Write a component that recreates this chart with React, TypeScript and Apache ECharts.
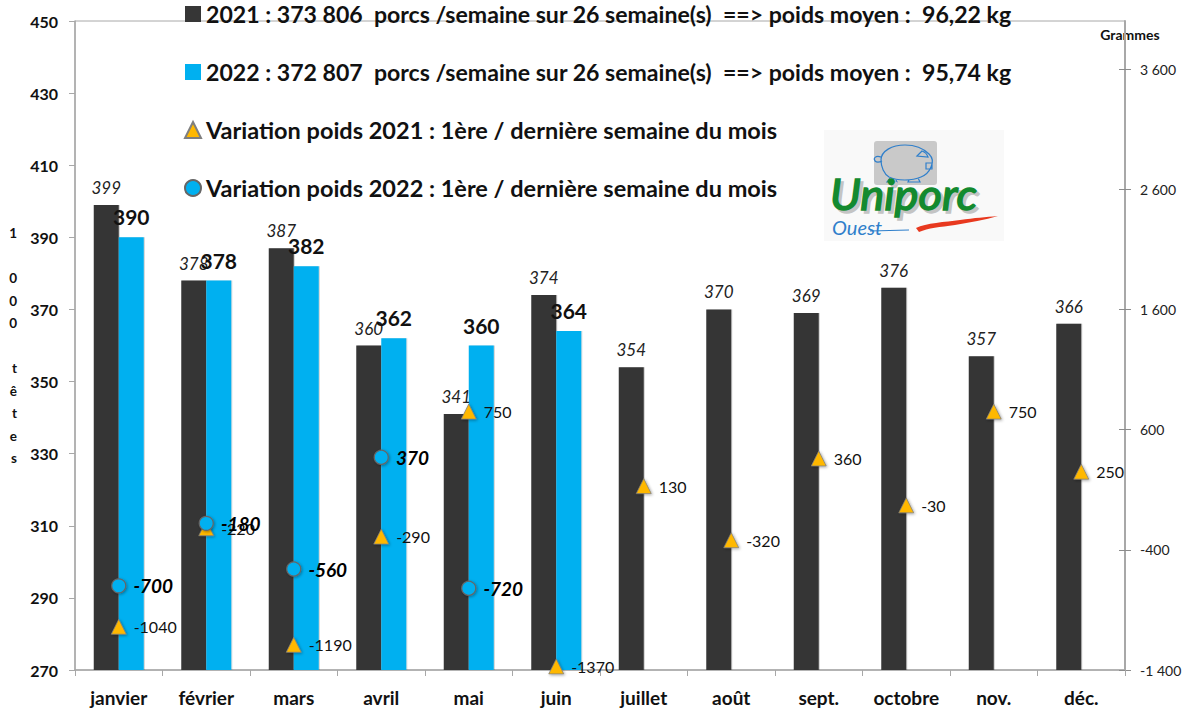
import React, { useEffect, useRef } from "react";
import * as echarts from "echarts";

const months = ["janvier", "février", "mars", "avril", "mai", "juin", "juillet", "août", "sept.", "octobre", "nov.", "déc."];
const heads2021 = [399, 378, 387, 360, 341, 374, 354, 370, 369, 376, 357, 366];
const heads2022 = [390, 378, 382, 362, 360, 364, null, null, null, null, null, null];
const weight2021 = [-1040, -220, -1190, -290, 750, -1370, 130, -320, 360, -30, 750, 250];
const weight2022 = [-700, -180, -560, 370, -720, null, null, null, null, null, null, null];
const leftTicks = [270, 290, 310, 330, 350, 370, 390, 410, 430, 450];
const rightTicks = [-1400, -400, 600, 1600, 2600, 3600];
const legendNames = [
  "2021 : 373 806  porcs /semaine sur 26 semaine(s)  ==> poids moyen :  96,22 kg",
  "2022 : 372 807  porcs /semaine sur 26 semaine(s)  ==> poids moyen :  95,74 kg",
  "Variation poids 2021 : 1ère / dernière semaine du mois",
  "Variation poids 2022 : 1ère / dernière semaine du mois",
];
const leftTitle = "1\n\n0\n0\n0\n\nt\nê\nt\ne\ns";

const FONT = "Lato";
const AXIS = "#a8a8a8";

echarts.graphic.registerShape(
  "pigBody",
  echarts.graphic.extendPath(
    "M881 160 C881 151 892 145 905 145 C917 145 924 149 929 154 C933 158 933 163 931 167 C929 172 926 175 921 177 C912 181 897 181 889 177 C884 174 881 167 881 160 Z M881 157 C876 155 873 158 875 161 C877 163 880 162 882 161 M890 178 L887 182 L897 182 L896 180 M909 180 L908 182 L920 182 L918 178 M917 156 L922 151 C925 152 927 154 928 157 Z M926 163 L932 163 L932 169 L926 169 Z",
    {}
  )
);
echarts.graphic.registerShape(
  "redStroke",
  echarts.graphic.extendPath("M916 228 C926 223 945 222 960 220 C975 218 985 217 998 216 C985 220 970 222 955 225 C940 227 928 228 919 232 Z", {})
);

export default function App() {
  const ref = useRef<HTMLDivElement>(null);
  useEffect(() => {
    const chart = echarts.init(ref.current!, undefined, { renderer: "svg" });
    const barShadow = { shadowColor: "rgba(0,0,0,0.2)", shadowBlur: 1.5, shadowOffsetX: 1, shadowOffsetY: 0 };
    const markerShadow = { shadowColor: "rgba(0,0,0,0.35)", shadowBlur: 3, shadowOffsetX: 1, shadowOffsetY: 1 };
    const legendRow = (name: string, icon: string, fontSize: number) => ({
      name,
      icon,
      textStyle: { fontFamily: FONT, fontWeight: "bold", fontSize, color: "#111111", lineHeight: 24 },
    });
    chart.setOption({
      animation: false,
      backgroundColor: "#ffffff",
      textStyle: { fontFamily: FONT },
      grid: { left: 75, right: 62, top: 21, bottom: 41, show: true, borderColor: AXIS, borderWidth: 1, backgroundColor: "transparent" },
      legend: {
        orient: "vertical",
        left: 179,
        top: -3,
        itemWidth: 16,
        itemHeight: 16,
        itemGap: 34,
        selectedMode: false,
        data: [
          legendRow(legendNames[0], "rect", 23.1),
          legendRow(legendNames[1], "rect", 23.1),
          legendRow(legendNames[2], "triangle", 23.5),
          legendRow(legendNames[3], "circle", 23.5),
        ],
      },
      xAxis: {
        type: "category",
        data: months,
        axisLine: { onZero: false, lineStyle: { color: AXIS, width: 1.5 } },
        axisTick: { show: true, length: 6, lineStyle: { color: AXIS }, alignWithLabel: false },
        axisLabel: { interval: 0, margin: 18, fontFamily: FONT, fontWeight: "bold", fontSize: 19, color: "#111111" },
      },
      yAxis: [
        {
          type: "value",
          min: 270,
          max: 450,
          name: leftTitle,
          nameLocation: "middle",
          nameRotate: 0,
          nameGap: 58,
          nameTextStyle: { fontFamily: FONT, fontWeight: "bold", fontSize: 13.5, lineHeight: 22.5, color: "#111111", padding: [7, 0, 0, 0] },
          splitLine: { show: false },
          axisLine: { show: true, lineStyle: { color: AXIS, width: 1.5 } },
          axisTick: { show: true, length: 6, lineStyle: { color: AXIS }, customValues: leftTicks },
          axisLabel: { margin: 17, padding: [0, 0, 2, 0], fontFamily: FONT, fontWeight: "bold", fontSize: 16, color: "#111111", customValues: leftTicks, showMinLabel: true, showMaxLabel: true },
        },
        {
          type: "value",
          position: "right",
          min: -1400,
          max: 4000,
          name: "Grammes",
          nameLocation: "end",
          nameGap: -20,
          nameTextStyle: { fontFamily: FONT, fontWeight: "bold", fontSize: 14, color: "#111111", align: "center", padding: [0, 0, 0, 10] },
          splitLine: { show: false },
          axisLine: { show: true, lineStyle: { color: AXIS, width: 2 } },
          axisTick: { show: true, length: 6, lineStyle: { color: "#8c8c8c" }, customValues: rightTicks },
          axisLabel: {
            margin: 15,
            fontFamily: FONT,
            fontSize: 14,
            color: "#222222",
            customValues: rightTicks,
            formatter: (v: number) => {
              const a = Math.abs(v);
              const s = a >= 1000 ? `${Math.floor(a / 1000)} ${String(a % 1000).padStart(3, "0")}` : String(a);
              return (v < 0 ? "-" : "") + s;
            },
          },
        },
        {
          type: "value",
          position: "right",
          min: -1400,
          max: 4000,
          splitLine: { show: false },
          axisLine: { show: false },
          axisTick: { show: true, inside: true, length: 6, lineStyle: { color: "#8c8c8c" }, customValues: rightTicks },
          axisLabel: { show: false },
        },
      ],
      series: [
        {
          name: legendNames[0],
          type: "bar",
          data: heads2021,
          barWidth: 25,
          barGap: 0,
          itemStyle: { color: "#363636", ...barShadow },
          label: { show: true, position: "top", distance: 9, fontFamily: FONT, fontStyle: "italic", fontSize: 17, color: "#222222" },
        },
        {
          name: legendNames[1],
          type: "bar",
          data: heads2022,
          barWidth: 25,
          itemStyle: { color: "#00B0F0", ...barShadow },
          label: { show: true, position: "top", distance: 10, fontFamily: FONT, fontWeight: "bold", fontSize: 21, color: "#111111" },
        },
        {
          name: legendNames[2],
          type: "scatter",
          yAxisIndex: 1,
          data: weight2021,
          symbol: "triangle",
          symbolSize: 15,
          itemStyle: { opacity: 1, color: "#FFB800", borderColor: "#7f7f7f", borderWidth: 0.75, ...markerShadow },
          label: { show: true, position: "right", distance: 7, fontFamily: FONT, fontSize: 16, color: "#111111" },
          z: 5,
        },
        {
          name: legendNames[3],
          type: "scatter",
          yAxisIndex: 1,
          data: weight2022,
          symbol: "circle",
          symbolSize: 14,
          itemStyle: { opacity: 1, color: "#00B0F0", borderColor: "#666666", borderWidth: 1.25, ...markerShadow },
          label: { show: true, position: "right", distance: 7, fontFamily: FONT, fontStyle: "italic", fontWeight: "bold", fontSize: 19, color: "#000000" },
          z: 6,
        },
      ],
      graphic: [
        { type: "rect", z: 0, silent: true, shape: { x: 824, y: 130, width: 180, height: 111 }, style: { fill: "#f9f9f9" } },
        { type: "rect", z: 1, silent: true, shape: { x: 874, y: 141, width: 63, height: 44, r: 3 }, style: { fill: "#c9c9c9" } },
        { type: "pigBody", z: 2, silent: true, style: { fill: "none", stroke: "#2f7fcb", lineWidth: 1.2 } },
        { type: "text", z: 2, silent: true, x: 833, y: 174, scaleX: 1.05, style: { text: "Uniporc", fontFamily: FONT, fontStyle: "italic", fontSize: 43, fill: "#c4c4c4", stroke: "#c4c4c4", lineWidth: 1.5 } },
        { type: "text", z: 3, silent: true, x: 830, y: 171, scaleX: 1.05, style: { text: "Uniporc", fontFamily: FONT, fontStyle: "italic", fontSize: 43, fill: "#138a2f", stroke: "#138a2f", lineWidth: 1.5 } },
        { type: "text", z: 3, silent: true, x: 832, y: 217, style: { text: "Ouest", fontFamily: FONT, fontStyle: "italic", fontSize: 20, fill: "#2f7fcb" } },
        { type: "line", z: 3, silent: true, shape: { x1: 870, y1: 231, x2: 909, y2: 230 }, style: { stroke: "#2f7fcb", lineWidth: 1.2 } },
        { type: "redStroke", z: 3, silent: true, style: { fill: "#e8391f" } },
      ],
    });
    return () => chart.dispose();
  }, []);
  return <div ref={ref} style={{ position: "fixed", left: 0, top: 0, width: 1187, height: 711 }} />;
}
